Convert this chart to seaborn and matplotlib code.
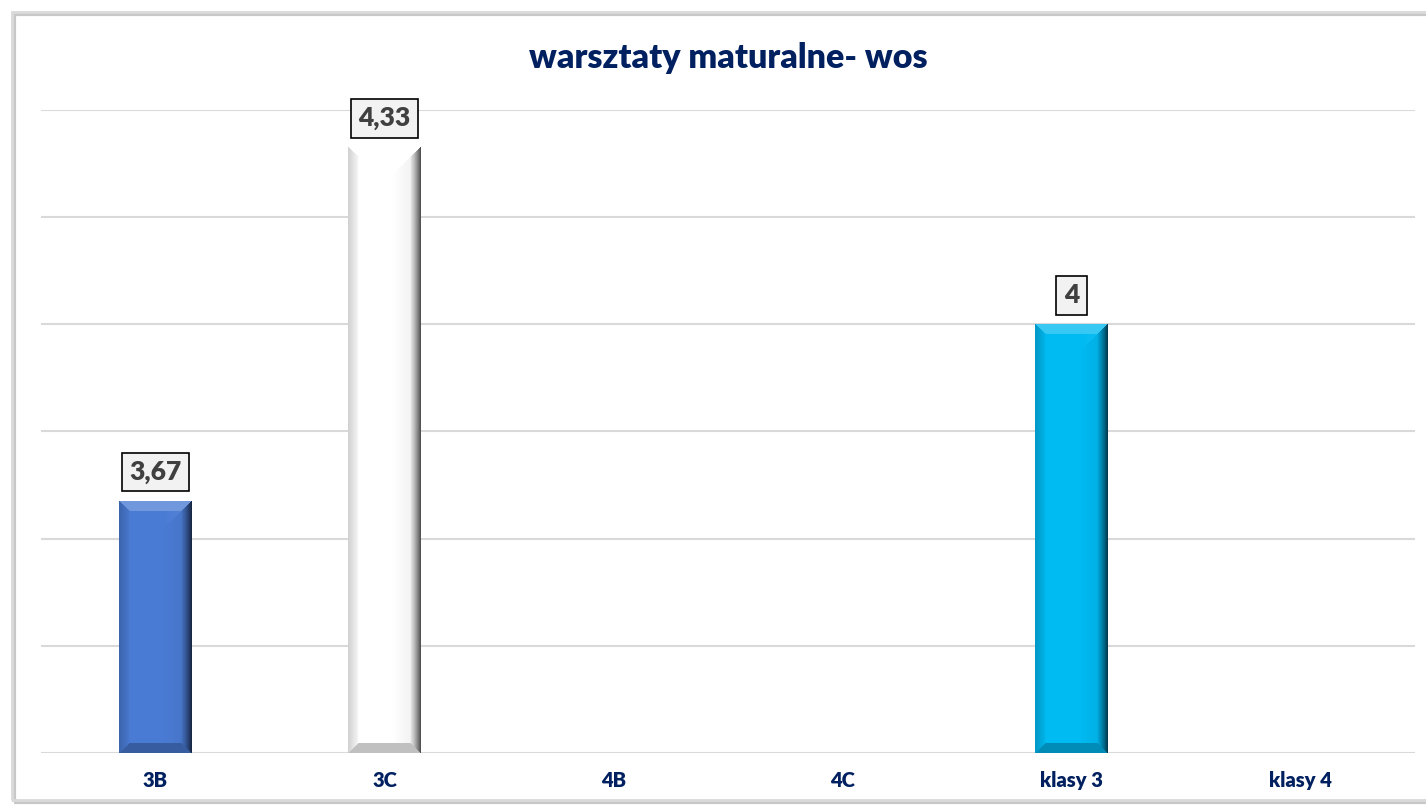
import numpy as np
import pandas as pd
import matplotlib.pyplot as plt
import seaborn as sns
from matplotlib.patches import Rectangle

# data
categories = ['3B', '3C', '4B', '4C', 'klasy 3', 'klasy 4']
values = [3.67, 4.33, np.nan, np.nan, 4.0, np.nan]
value_labels = ['3,67', '4,33', '', '', '4', '']
bar_colors = ['#4A7BD4', '#FFFFFF', '#FFFFFF', '#FFFFFF', '#00BAF2', '#FFFFFF']
title = 'warsztaty maturalne- wos'

df = pd.DataFrame({'klasa': categories, 'srednia': values})

sns.set_theme(style='white')
plt.rcParams['font.family'] = ['Lato', 'DejaVu Sans']

fig = plt.figure(figsize=(14.26, 8.06), dpi=100)
ax = fig.add_axes([41 / 1426, 53 / 806, 1374 / 1426, 643 / 806])

sns.barplot(data=df, x='klasa', y='srednia', hue='klasa', order=categories,
            hue_order=categories, palette=dict(zip(categories, bar_colors)),
            legend=False, width=0.315, saturation=1, errorbar=None,
            linewidth=0, ax=ax)

ax.set_xlim(-0.5, len(categories) - 0.5)
ax.set_ylim(3.2, 4.4)
ax.set_yticks(np.arange(3.2, 4.41, 0.2))
ax.set_yticklabels([])
ax.yaxis.grid(True, color='#D9D9D9', lw=1.5)
ax.set_axisbelow(True)
ax.set_xlabel('')
ax.set_ylabel('')
for s in ax.spines.values():
    s.set_visible(False)
ax.tick_params(axis='both', length=0)
ax.tick_params(axis='x', pad=13)
for t in ax.get_xticklabels():
    t.set_fontweight('heavy')
    t.set_color('#002060')
    t.set_fontsize(14.5)

# bevel shading on top of each bar
fig.canvas.draw()
ylo = ax.get_ylim()[0]
for p in ax.patches:
    h = p.get_height()
    if not np.isfinite(h) or h <= 0:
        continue
    x0, w = p.get_x(), p.get_width()
    (px0, py0), (px1, py1) = ax.transData.transform([(x0, ylo), (x0 + w, h)])
    W, H = int(round(px1 - px0)), int(round(py1 - py0))
    yy, xx = np.mgrid[0:H, 0:W] + 0.5
    dl, dr, dt, db = xx, W - xx, yy, H - yy
    b = 10.0
    img = np.zeros((H, W, 4))
    dmin = np.minimum.reduce([dl, dr, dt, db])
    facet = np.argmin(np.stack([dl, dr, dt, db]), axis=0)
    k = np.clip(1 - dmin / b, 0, 1)
    inb = (dmin < b).astype(float)
    # left: slight dark, right: dark, top: light, bottom: dark
    alpha = np.select([facet == 0, facet == 1, facet == 2, facet == 3],
                      [0.15 * k + 0.04 * inb, 0.6 * k ** 1.3 + 0.12 * inb,
                       0.22 * inb, 0.25 * inb])
    white = (facet == 2)
    img[..., :3] = np.where(white[..., None], 1.0, 0.0)
    img[..., 3] = alpha
    # soft darkening toward the right inside the face
    face = dmin >= b
    grad = np.clip((xx / W - 0.6) / 0.4, 0, 1) * 0.08
    img[..., 3] = np.where(face, grad, img[..., 3])
    ax.imshow(img, extent=(x0, x0 + w, ylo, h), aspect='auto',
              interpolation='bilinear', zorder=p.get_zorder() + 0.1)

ax.set_xlim(-0.5, len(categories) - 0.5)
ax.set_ylim(3.2, 4.4)

for i, (v, lab) in enumerate(zip(values, value_labels)):
    if not lab:
        continue
    ax.annotate(lab, xy=(i, v), xytext=(0, 21), textcoords='offset points',
                ha='center', va='center', fontsize=19, fontweight='heavy',
                color='#404040', zorder=5,
                bbox=dict(boxstyle='square,pad=0.28', fc='#F2F2F2', ec='black', lw=1.2))

fig.text(728 / 1426, 1 - 58 / 806, title, ha='center', va='center',
         fontsize=24.5, fontweight='heavy', color='#002060')

# chart frame with soft shadow
fig.patches.append(Rectangle((14 / 1426, 4 / 806), 1.0, 788 / 806, transform=fig.transFigure,
                             fill=False, edgecolor='#C8C8C8', lw=3, zorder=0))
fig.patches.append(Rectangle((12 / 1426, 6 / 806), 1.0, 788 / 806, transform=fig.transFigure,
                             fill=False, edgecolor='#DADADA', lw=2, zorder=0))

plt.savefig('out.png', dpi=100)
